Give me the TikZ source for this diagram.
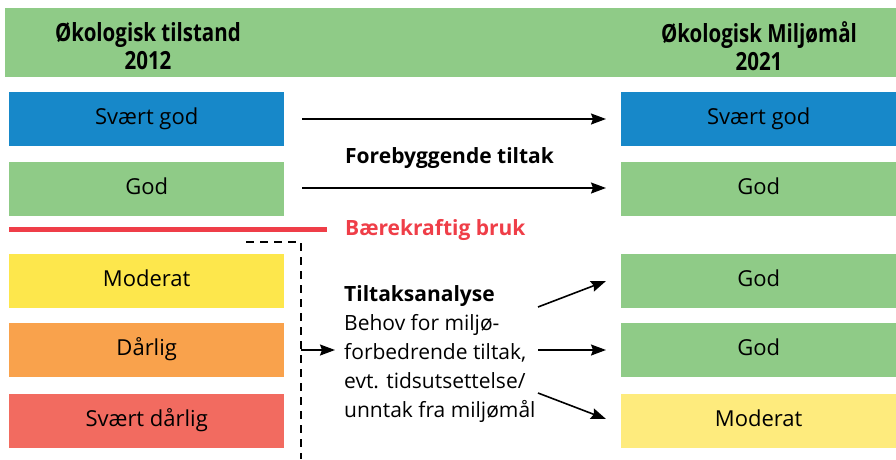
\documentclass[tikz,border=0pt]{standalone}
\usepackage{fontspec}
\setmainfont{Open Sans}
\newfontfamily\condfont[FakeStretch=0.82]{Open Sans}
\usetikzlibrary{arrows.meta}
\definecolor{hdrgreen}{HTML}{8FCB87}
\definecolor{cblue}{HTML}{1788C9}
\definecolor{cgreen}{HTML}{8FCB87}
\definecolor{cyellow}{HTML}{FDE74C}
\definecolor{corange}{HTML}{F9A24C}
\definecolor{cred}{HTML}{F26B60}
\definecolor{clyellow}{HTML}{FEEB7D}
\definecolor{lred}{HTML}{EF3E48}
\tikzset{
  box/.style={draw=none, minimum width=275pt, minimum height=54pt, inner sep=0pt,
    text height=15.5pt, text depth=5.5pt, font=\fontsize{22}{26}\selectfont},
  arr/.style={line width=1.6pt, -{Stealth[length=15pt,width=11pt,inset=2pt]}},
  hdr/.style={font=\condfont\bfseries\fontsize{25}{28}\selectfont, align=center},
  boldlbl/.style={font=\bfseries\fontsize{21}{25}\selectfont, inner sep=0pt},
}
\begin{document}
\begin{tikzpicture}[x=1pt,y=-1pt]
\useasboundingbox (0,0) rectangle (896,459);
\fill[hdrgreen] (5,8) rectangle (896,77);
\node[hdr] (h1) at (148,46) {Økologisk tilstand\\2012};
\node[hdr] (h2) at (759,46) {Økologisk Miljømål\\2021};
% left
\node[box, fill=cblue, anchor=north west] (l1) at (9,92) {Svært god};
\node[box, fill=cgreen, anchor=north west] (l2) at (9,162) {God};
\node[box, fill=cyellow, anchor=north west] (l3) at (9,254) {Moderat};
\node[box, fill=corange, anchor=north west] (l4) at (9,323) {Dårlig};
\node[box, fill=cred, anchor=north west] (l5) at (9,394) {Svært dårlig};
% right
\node[box, fill=cblue, anchor=north west] (r1) at (621,92) {Svært god};
\node[box, fill=cgreen, anchor=north west] (r2) at (621,162) {God};
\node[box, fill=cgreen, anchor=north west] (r3) at (621,254) {God};
\node[box, fill=cgreen, anchor=north west] (r4) at (621,323) {God};
\node[box, fill=clyellow, anchor=north west] (r5) at (621,394) {Moderat};
% red line
\coordinate (rl1) at (9,229);
\coordinate (rl2) at (327,229);
\draw[lred, line width=5pt] (rl1) -- (rl2);
\node[boldlbl, anchor=base west, text=lred] (bb) at (345,235) {Bærekraftig bruk};
% top arrows
\coordinate (a1s) at (302,119);
\coordinate (a1e) at (606,119);
\coordinate (a2s) at (302,188);
\coordinate (a2e) at (606,188);
\draw[arr] (a1s) -- (a1e);
\draw[arr] (a2s) -- (a2e);
\node[boldlbl, anchor=base west] (ft) at (345,163) {Forebyggende tiltak};
% dashed
\coordinate (d1) at (246,242);
\coordinate (d2) at (301,242);
\coordinate (d3) at (301,459);
\draw[line width=1.8pt, dash pattern=on 8pt off 6pt] (d1) -- (d2) -- (d3);
\coordinate (da) at (301,350);
\coordinate (db) at (335,350);
\draw[arr] (da) -- (db);
% text block
\node[anchor=north west, align=left, inner sep=0pt, font=\fontsize{21}{29}\selectfont] (ta) at (344,285) {{\bfseries Tiltaksanalyse}\\Behov for miljø-\\forbedrende tiltak,\\evt. tidsutsettelse/\\unntak fra miljømål};
% right arrows
\coordinate (b1s) at (538,307);
\coordinate (b1e) at (606,281);
\coordinate (b2s) at (538,350);
\coordinate (b2e) at (606,350);
\coordinate (b3s) at (538,393);
\coordinate (b3e) at (606,419);
\draw[arr] (b1s) -- (b1e);
\draw[arr] (b2s) -- (b2e);
\draw[arr] (b3s) -- (b3e);
\end{tikzpicture}
\end{document}
